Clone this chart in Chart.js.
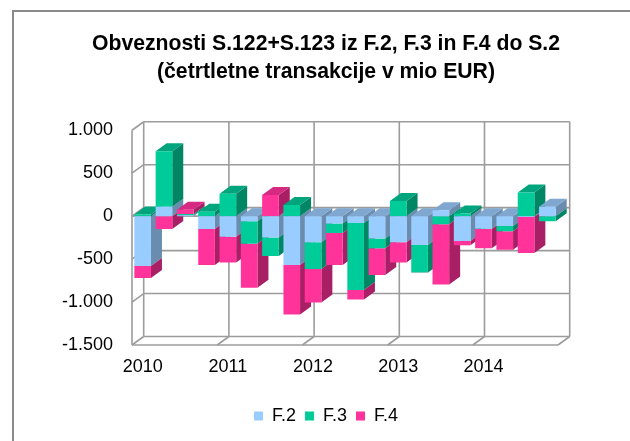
<!DOCTYPE html>
<html>
<head>
<meta charset="utf-8">
<script src="https://cdn.jsdelivr.net/npm/chart.js@4.4.1/dist/chart.umd.min.js"></script>
<style>
  html, body { margin: 0; padding: 0; background: #fff; overflow: hidden; }
  #wrap { position: relative; width: 630px; height: 441px; }
  #frame { position: absolute; left: 12px; top: 10px; width: 700px; height: 500px;
           border-left: 2px solid #8a8a8a; border-top: 2px solid #8a8a8a; pointer-events: none; }
  canvas { position: absolute; left: 0; top: 0; }
</style>
</head>
<body>
<div id="wrap">
  <canvas id="c" width="630" height="441"></canvas>
  <div id="frame"></div>
</div>
<script>
// ---- data ----
const quarters = [
  '2010 Q1','2010 Q2','2010 Q3','2010 Q4',
  '2011 Q1','2011 Q2','2011 Q3','2011 Q4',
  '2012 Q1','2012 Q2','2012 Q3','2012 Q4',
  '2013 Q1','2013 Q2','2013 Q3','2013 Q4',
  '2014 Q1','2014 Q2','2014 Q3','2014 Q4'
];
const yearLabels = ['2010', '2011', '2012', '2013', '2014'];
const seriesNames = ['F.2', 'F.3', 'F.4'];
const f2 = [-580, 110, 10, -150, -240, -60, -250, -570, -305, -85, -80, -260, -305, -335, 70, -290, -145, -115, -10, 110];
const f3 = [20, 645, 15, 50, 260, -260, -215, 130, -310, -110, -780, -115, 175, -320, -95, 30, -5, -60, 275, -60];
const f4 = [-140, -150, 50, -420, -300, -515, 245, -575, -390, -375, -110, -310, -235, -5, -700, -50, -225, -215, -420, 0];
const yTicks = [-1500, -1000, -500, 0, 500, 1000];
const titleLines = ['Obveznosti S.122+S.123 iz F.2, F.3 in F.4 do S.2', '(četrtletne transakcije v mio EUR)'];

// ---- styles ----
const FONT = "'Liberation Sans', Arial, sans-serif";
const frontColors = ['#99CCFF', '#00CC99', '#FF3399'];
const topColors   = ['#7FA7D0', '#00A57D', '#D62A82'];
const sideColors  = ['#6A8CAE', '#008565', '#A81F66'];
const WDX = 11.7, WDY = 8.5;   // wall depth
const BDX = 11, BDY = 8;       // bar depth

function fmt(v) {
  const s = Math.abs(v).toString().replace(/\B(?=(\d{3})+(?!\d))/g, '.');
  return (v < 0 ? '-' : '') + s;
}

const threeD = {
  id: 'threeD',
  beforeDatasetsDraw(chart) {
    const { ctx, chartArea: a, scales: { x, y } } = chart;
    const n = quarters.length;
    const line = (x1, y1, x2, y2) => { ctx.beginPath(); ctx.moveTo(x1, y1); ctx.lineTo(x2, y2); ctx.stroke(); };
    ctx.save();
    ctx.strokeStyle = '#9c9c9c';
    ctx.lineWidth = 1.6;
    yTicks.forEach(v => {
      const py = y.getPixelForValue(v);
      line(a.left, py, a.left + WDX, py - WDY);
      line(a.left + WDX, py - WDY, a.right + WDX, py - WDY);
    });
    line(a.left, a.top, a.left, a.bottom);
    line(a.left + WDX, a.top - WDY, a.left + WDX, a.bottom - WDY);
    line(a.right + WDX, a.top - WDY, a.right + WDX, a.bottom - WDY);
    line(a.left, a.bottom, a.right, a.bottom);
    line(a.right, a.bottom, a.right + WDX, a.bottom - WDY);
    for (let k = 4; k < n; k += 4) {
      const px = (x.getPixelForValue(k - 1) + x.getPixelForValue(k)) / 2;
      line(px, a.bottom, px + WDX, a.bottom - WDY);
      line(px + WDX, a.bottom - WDY, px + WDX, a.top - WDY);
    }
    const y0 = y.getPixelForValue(0);
    line(a.left, y0, a.right, y0);

    const metas = chart.data.datasets.map((d, i) => chart.getDatasetMeta(i));
    const poly = (pts, color) => {
      ctx.beginPath();
      ctx.moveTo(pts[0][0], pts[0][1]);
      for (let i = 1; i < pts.length; i++) ctx.lineTo(pts[i][0], pts[i][1]);
      ctx.closePath();
      ctx.fillStyle = color;
      ctx.fill();
    };
    for (let i = 0; i < n; i++) {
      let topDs = -1, firstNeg = -1;
      metas.forEach((m, d) => {
        const v = chart.data.datasets[d].data[i];
        if (v > 0) topDs = d;
        if (v < 0 && firstNeg < 0) firstNeg = d;
      });
      metas.forEach((m, d) => {
        const v = chart.data.datasets[d].data[i];
        if (!v) return;
        const el = m.data[i];
        const r = el.x + el.width / 2;
        const t = Math.min(el.y, el.base), b = Math.max(el.y, el.base);
        poly([[r, t], [r + BDX, t - BDY], [r + BDX, b - BDY], [r, b]], sideColors[d]);
      });
      const d = topDs >= 0 ? topDs : firstNeg;
      if (d >= 0) {
        const el = metas[d].data[i];
        const l = el.x - el.width / 2, r = el.x + el.width / 2;
        const ty = topDs >= 0 ? el.y : el.base;
        poly([[l, ty], [l + BDX, ty - BDY], [r + BDX, ty - BDY], [r, ty]], topColors[d]);
      }
    }
    ctx.restore();
  }
};

Chart.defaults.font.family = FONT;
Chart.defaults.color = '#000';

new Chart(document.getElementById('c'), {
  type: 'bar',
  data: {
    labels: quarters,
    datasets: [f2, f3, f4].map((arr, i) => ({
      label: seriesNames[i],
      data: arr,
      backgroundColor: frontColors[i],
      borderWidth: 0,
      barPercentage: 0.78,
      categoryPercentage: 1.0
    }))
  },
  options: {
    responsive: false,
    animation: false,
    devicePixelRatio: 1,
    layout: { padding: { left: 22, right: 0, top: 0, bottom: 6 } },
    plugins: {
      title: {
        display: true,
        text: titleLines,
        color: '#000',
        font: { family: FONT, size: 21.2, weight: 'bold', lineHeight: 1.35 },
        padding: { top: 29.5, bottom: 43.5 }
      },
      legend: {
        position: 'bottom',
        labels: {
          boxWidth: 9, boxHeight: 9, padding: 9, color: '#000',
          font: { family: FONT, size: 18 }
        }
      },
      tooltip: { enabled: false }
    },
    scales: {
      x: {
        stacked: true,
        grid: { display: false, drawTicks: false },
        border: { display: false },
        ticks: {
          autoSkip: false, maxRotation: 0, padding: 11,
          font: { family: FONT, size: 18 },
          callback: (v, i) => (i % 4 === 0 ? yearLabels[i / 4] : '')
        },
        afterFit: s => { s.height = 53; }
      },
      y: {
        stacked: true,
        min: -1500, max: 1000,
        grid: { display: false, drawTicks: false },
        border: { display: false },
        afterBuildTicks: s => { s.ticks = yTicks.map(v => ({ value: v })); },
        ticks: {
          padding: 19,
          font: { family: FONT, size: 18 },
          callback: v => fmt(v)
        },
        afterFit: s => { s.width = 110; }
      },
      yRight: {
        position: 'right',
        min: -1500, max: 1000,
        grid: { display: false, drawTicks: false },
        border: { display: false },
        ticks: { display: false },
        afterFit: s => { s.width = 72; }
      }
    }
  },
  plugins: [threeD]
});
</script>
</body>
</html>
